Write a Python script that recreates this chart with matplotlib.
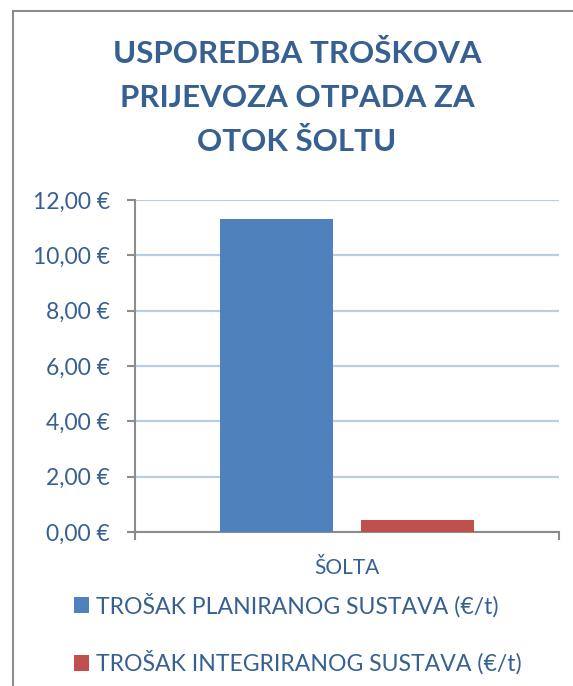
import matplotlib
matplotlib.use("Agg")
import matplotlib.pyplot as plt
from matplotlib.patches import Patch, Rectangle

# podaci
kategorije = ["ŠOLTA"]
serije = ["TROŠAK PLANIRANOG SUSTAVA (€/t)", "TROŠAK INTEGRIRANOG SUSTAVA (€/t)"]
vrijednosti = [11.30, 0.44]
boje = ["#4F81BD", "#C0504D"]
y_oznake = [0, 2, 4, 6, 8, 10, 12]

plt.rcParams['font.family'] = ['Lato', 'DejaVu Sans']
boja_teksta = "#376092"

fig = plt.figure(figsize=(5.73, 6.86), dpi=100)
W, H = 573, 686

# okvir grafikona
fig.patches.append(Rectangle((13 / W, -0.1), 1.2, 1 - 11 / H + 0.1, transform=fig.transFigure,
                             fill=False, edgecolor="#8C8C8C", linewidth=1.5))

ax = fig.add_axes([135 / W, 1 - 532 / H, (559 - 135) / W, (532 - 200) / H])

sirina = 0.2665
pomak = [-0.166, 0.166]
for i, (v, b, s) in enumerate(zip(vrijednosti, boje, serije)):
    ax.bar(pomak[i], v, width=sirina, color=b, label=s, zorder=3)

ax.set_xlim(-0.5, 0.5)
ax.set_ylim(0, 12)
ax.set_yticks(y_oznake)
ax.set_yticklabels([f"{v:.2f} €".replace(".", ",") for v in y_oznake])
ax.grid(axis="y", color="#B9CDE5", linewidth=1.6, zorder=0)

ax.set_xticks([-0.5, 0.5])
ax.set_xticklabels(["", ""])
ax.set_xticks([0], minor=True)
ax.set_xticklabels(kategorije, minor=True)
ax.tick_params(axis="x", which="minor", length=0, pad=19, labelsize=15, labelcolor=boja_teksta)
ax.tick_params(axis="x", which="major", length=6, width=1.5, color="#8C8C8C")
ax.tick_params(axis="y", length=6, width=1.5, color="#8C8C8C", pad=12,
               labelsize=16.5, labelcolor=boja_teksta)

for s in ["top", "right"]:
    ax.spines[s].set_visible(False)
for s in ["left", "bottom"]:
    ax.spines[s].set_color("#8C8C8C")
    ax.spines[s].set_linewidth(1.5)

fig.text(297 / W, 1 - 98 / H, "USPOREDBA TROŠKOVA\nPRIJEVOZA OTPADA ZA\nOTOK ŠOLTU",
         ha="center", va="center", fontsize=22.5, fontweight="bold", color=boja_teksta,
         linespacing=1.68)

rucke = [Patch(facecolor=b, edgecolor="none") for b in boje]
leg = fig.legend(rucke, serije, loc="upper left", bbox_to_anchor=(53 / W, 1 - 572 / H),
                 frameon=False, fontsize=16.6, handlelength=0.65, handleheight=0.65,
                 handletextpad=0.3, labelspacing=1.45)
for t in leg.get_texts():
    t.set_color(boja_teksta)

fig.savefig("out.png", dpi=100)
